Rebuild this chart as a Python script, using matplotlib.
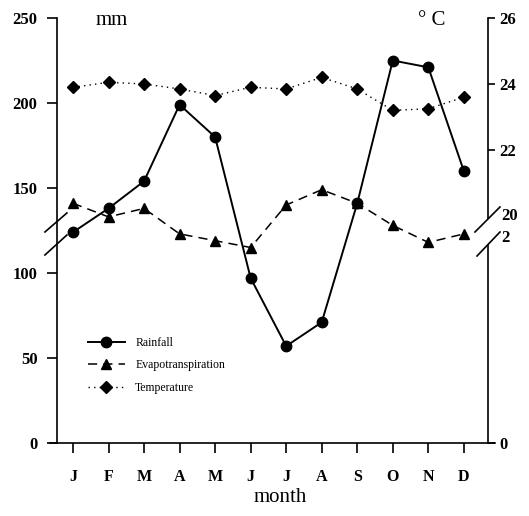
import matplotlib.pyplot as plt
import numpy as np

# monthly values
months = ['J', 'F', 'M', 'A', 'M', 'J', 'J', 'A', 'S', 'O', 'N', 'D']
rainfall = [124, 138, 154, 199, 180, 97, 57, 71, 141, 225, 221, 160]
evapo = [141, 133, 138, 123, 119, 115, 140, 149, 141, 128, 118, 123]
temperature = [23.9, 24.05, 24.0, 23.85, 23.65, 23.9, 23.85, 24.2, 23.85, 23.2, 23.25, 23.6]

plt.rcParams['font.family'] = ['Liberation Serif', 'DejaVu Serif']

fig = plt.figure(figsize=(5.29, 5.16), dpi=100)
ax = fig.add_axes([57/529, 73/516, 431/529, 425/516])
x = np.arange(len(months))

ax.plot(x, rainfall, '-o', color='k', lw=1.4, ms=7.5, label='Rainfall')
ax.plot(x, evapo, '--^', color='k', lw=1.1, ms=7.5, dashes=(6, 4), label='Evapotranspiration')

ax.set_xlim(-0.45, 11.68)
ax.set_ylim(0, 250)
ax.set_yticks([0, 50, 100, 150, 200, 250])
ax.set_xticks(x)
ax.set_xticklabels(months)
ax.tick_params(axis='y', direction='out', length=7, width=1.2, pad=7, labelsize=12)
ax.tick_params(axis='x', direction='out', length=7, width=1.2, pad=12, labelsize=11.5)
for t in ax.get_xticklabels() + ax.get_yticklabels():
    t.set_fontweight('bold')
for s in ['top', 'right', 'bottom']:
    ax.spines[s].set_visible(False)
ax.spines['left'].set_linewidth(1.2)
ax.axhline(0, xmin=-7/431, xmax=1 + 7/431, color='k', lw=1.2, clip_on=False)

# temperature on the right (broken) axis
ax2 = ax.twinx()
ax2.plot(x, temperature, ':D', color='k', lw=1.0, ms=6.5, dashes=(1, 3), label='Temperature')
ax2.set_ylim(13.12, 26)
ax2.set_yticks([13.12, 22, 24, 26])
ax2.set_yticklabels(['0', '22', '24', '26'])
ax2.tick_params(axis='y', direction='out', length=5, width=1.2, pad=3, labelsize=12)
for t in ax2.get_yticklabels():
    t.set_fontweight('bold')
for s in ax2.spines.values():
    s.set_visible(False)
ax2.text(1.03, (20 - 13.12) / 12.88, '20', transform=ax2.transAxes, ha='left', va='center',
         fontsize=12, fontweight='bold')
ax2.text(1.03, (19.33 - 13.12) / 12.88, '2', transform=ax2.transAxes, ha='left', va='center',
         fontsize=12, fontweight='bold')

# right spine with gap, and break marks
ax.plot([1, 1], [0, 0.466], transform=ax.transAxes, color='k', lw=1.2, clip_on=False)
ax.plot([1, 1], [0.529, 1], transform=ax.transAxes, color='k', lw=1.2, clip_on=False)
for (x0, x1, y0, y1) in [(-0.028, 0.023, 0.4965, 0.5412), (-0.028, 0.023, 0.4424, 0.4894),
                         (0.9698, 1.0278, 0.4965, 0.5553), (0.9745, 1.0278, 0.44, 0.4965)]:
    ax.plot([x0, x1], [y0, y1], transform=ax.transAxes, color='k', lw=1.2, clip_on=False)

ax.text(0.128, 0.995, 'mm', transform=ax.transAxes, ha='center', va='center', fontsize=15)
ax.text(0.87, 0.995, '° C', transform=ax.transAxes, ha='center', va='center', fontsize=15)
fig.text(280/529, 1 - 498/516, 'month', ha='center', va='center', fontsize=15)

h1, l1 = ax.get_legend_handles_labels()
h2, l2 = ax2.get_legend_handles_labels()
ax.legend(h1 + h2, l1 + l2, loc='upper left', bbox_to_anchor=(0.072, 0.25), frameon=False,
          fontsize=8.5, borderpad=0, borderaxespad=0, handlelength=3.1, handletextpad=0.9,
          labelspacing=0.9, numpoints=1)

fig.savefig('out.png', dpi=100)
